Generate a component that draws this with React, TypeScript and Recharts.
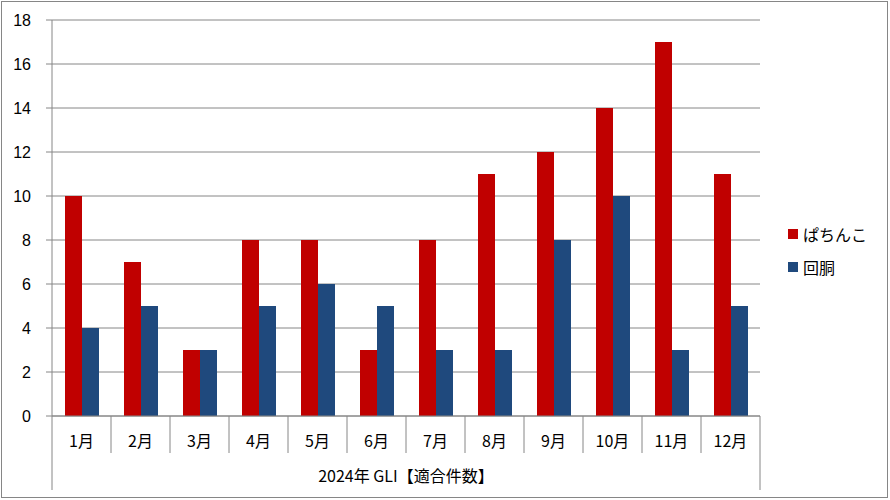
import { BarChart, Bar, XAxis, YAxis, CartesianGrid } from 'recharts';

const months = ['1月', '2月', '3月', '4月', '5月', '6月', '7月', '8月', '9月', '10月', '11月', '12月'];
const pachinko = [10, 7, 3, 8, 8, 3, 8, 11, 12, 14, 17, 11];
const kaido = [4, 5, 3, 5, 6, 5, 3, 3, 8, 10, 3, 5];
const yTicks = [0, 2, 4, 6, 8, 10, 12, 14, 16, 18];
const seriesColors = ['#C00000', '#1F497D'];

const data = months.map((m, i) => ({ month: m, ぱちんこ: pachinko[i], 回胴: kaido[i] }));

const W = 890;
const H = 500;
const margin = { top: 20, right: 130, bottom: 10, left: 0 };
const yWidth = 52;
const band = (W - margin.left - margin.right - yWidth) / months.length;
const font = '"Noto Sans CJK JP", "DejaVu Sans", sans-serif';
const grey = '#868686';

const MonthTick = (props: any) => {
  const { x, y, payload, index } = props;
  const last = index === months.length - 1;
  return (
    <g>
      <line x1={x - band / 2} y1={y} x2={x - band / 2} y2={y + (index === 0 ? 74 : 37)} stroke={grey} />
      {last && <line x1={x + band / 2} y1={y} x2={x + band / 2} y2={y + 74} stroke={grey} />}
      <text x={x} y={y + 31} textAnchor="middle" fontSize={16} fill="#000" fontFamily={font}>
        {payload.value}
      </text>
    </g>
  );
};

const LegendBox = () => (
  <div style={{ position: 'absolute', left: 788, top: 217, fontFamily: font, fontSize: 16, color: '#000' }}>
    {['ぱちんこ', '回胴'].map((name, i) => (
      <div key={name} style={{ display: 'flex', alignItems: 'center', height: 33 }}>
        <span style={{ width: 10, height: 10, background: seriesColors[i], display: 'inline-block', marginRight: 5 }} />
        {name}
      </div>
    ))}
  </div>
);

export default function App() {
  return (
    <div style={{ position: 'absolute', left: 0, top: 0, width: W, height: H, background: '#fff' }}>
      <div
        style={{
          position: 'absolute',
          left: 1,
          top: 1,
          width: 887,
          height: 497,
          border: `1px solid ${grey}`,
          boxSizing: 'border-box'
        }}
      />
      <BarChart width={W} height={H} data={data} margin={margin} barSize={17} barGap={0}>
        <CartesianGrid vertical={false} stroke={grey} strokeWidth={1} />
        <XAxis
          dataKey="month"
          height={74}
          tickLine={false}
          tickSize={0}
          tickMargin={0}
          stroke={grey}
          interval={0}
          tick={<MonthTick />}
          label={{ value: '2024年 GLI【適合件数】', position: 'insideBottom', offset: 8, fontSize: 16, fill: '#000', fontFamily: font }}
        />
        <YAxis
          width={yWidth}
          domain={[0, 18]}
          ticks={yTicks}
          tickSize={6}
          tickMargin={15}
          stroke={grey}
          tick={{ fill: '#000', fontSize: 16, fontFamily: '"Liberation Sans", Arial, sans-serif' }}
        />
        <Bar dataKey="ぱちんこ" fill={seriesColors[0]} isAnimationActive={false} />
        <Bar dataKey="回胴" fill={seriesColors[1]} isAnimationActive={false} />
      </BarChart>
      <LegendBox />
    </div>
  );
}
